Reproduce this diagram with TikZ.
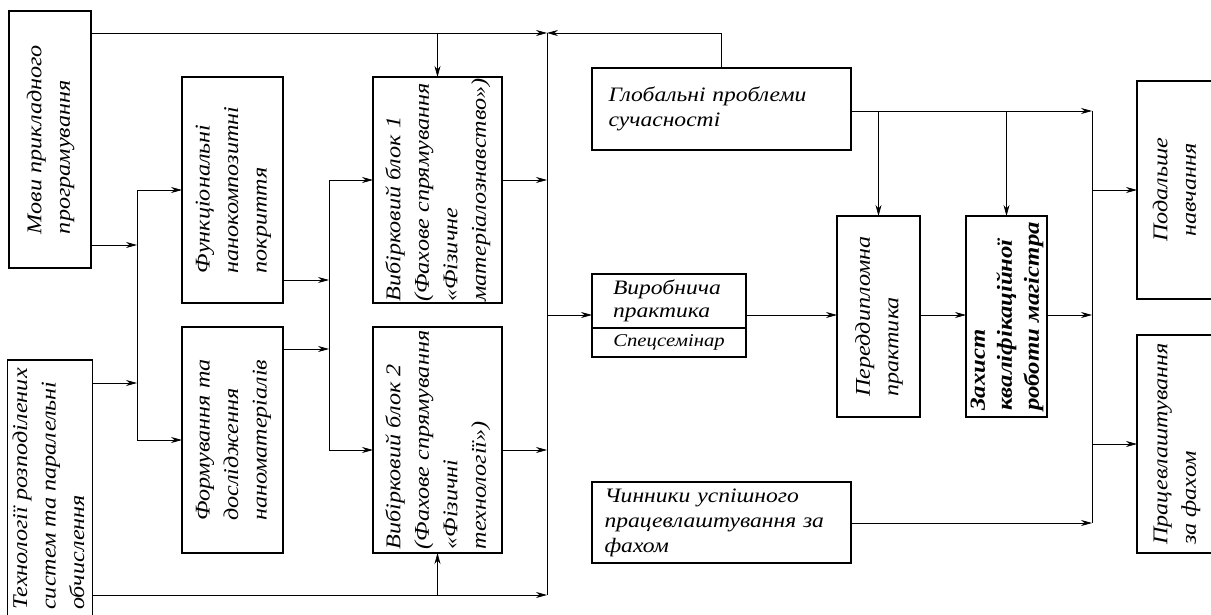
\documentclass[tikz,border=0pt]{standalone}
\usepackage{fontspec}
\setmainfont{Liberation Serif}[FakeStretch=1.15]
\usepackage{tikz}
\usetikzlibrary{arrows.meta,positioning}
% texte tourné dans les blocs verticaux
\newcommand{\vtext}[1]{\rotatebox{90}{\begin{tabular}{@{}l@{}}#1\end{tabular}}}
\newcommand{\vtextc}[1]{\rotatebox{90}{\begin{tabular}{@{}c@{}}#1\end{tabular}}}

\begin{document}
\begin{tikzpicture}[x=1pt,y=-1pt,>={Stealth[length=11pt,width=6pt]}]
\tikzset{bloc/.style={draw,line width=1.4pt,inner sep=0pt,outer sep=0pt,
  font=\itshape\fontsize{21}{28.5}\selectfont},
  horiz/.style={font=\itshape\fontsize{20.5}{25}\selectfont},
  lien/.style={line width=0.7pt},
  fleche/.style={lien,->}}
\useasboundingbox (0,0) rectangle (1211,615);

% colonne 1
\node[bloc,minimum width=82pt,minimum height=257pt] (mova) at (50,139.5)
  {\vtext{Мови прикладного\\програмування}};
\node[bloc,minimum width=82pt,minimum height=258pt] (tekh) at (50,489)
  {\vtext{Технології розподілених\\систем та паралельні\\обчислення}};
% colonne 2
\node[bloc,minimum width=101pt,minimum height=226pt] (funk) at (232.5,190)
  {\vtext{Функціональні\\нанокомпозитні\\покриття}};
\node[bloc,minimum width=101pt,minimum height=226pt] (form) at (232.5,440)
  {\vtext{Формування та\\дослідження\\наноматеріалів}};
% colonne 3
\node[bloc,minimum width=129pt,minimum height=226pt] (vyb1) at (437.5,190)
  {\vtext{Вибірковий блок 1\\(Фахове спрямування\\«Фізичне\\матеріалознавство»)}};
\node[bloc,minimum width=129pt,minimum height=226pt] (vyb2) at (437.5,440)
  {\vtext{Вибірковий блок 2\\(Фахове спрямування\\«Фізичні\\технології»)}};
% colonne 4
\node[bloc,horiz,minimum width=259pt,minimum height=82pt,text width=226pt,
  align=left] (glob) at (721.5,109)
  {Глобальні проблеми\\сучасності};
\node[bloc,horiz,minimum width=154pt,minimum height=54pt,text width=112pt,
  align=left,font=\itshape\fontsize{20.5}{23}\selectfont] (prac) at (669,301)
  {Виробнича\\практика};
\node[bloc,minimum width=154pt,minimum height=29pt,below=0pt of prac,
  font=\itshape\fontsize{18}{20}\selectfont] (sem) {Спецсемінар};
\node[bloc,horiz,minimum width=259pt,minimum height=81pt,text width=234pt,
  align=left] (chyn) at (721.5,522.5)
  {Чинники успішного\\працевлаштування за\\фахом};
% colonne 5
\node[bloc,minimum width=83pt,minimum height=201pt] (pd) at (878.5,316.5)
  {\vtext{Переддипломна\\практика}};
\node[bloc,minimum width=81pt,minimum height=201pt,
  font=\bfseries\itshape\fontsize{21.5}{27}\selectfont] (zakh) at (1006.5,316.5)
  {\vtext{Захист\\кваліфікаційної\\роботи магістра}};
% sorties
\node[bloc,minimum width=78pt,minimum height=218pt] (pod) at (1176,190)
  {\vtextc{Подальше\\навчання}};
\node[bloc,minimum width=78pt,minimum height=218pt] (prats) at (1176,444)
  {\vtext{Працевлаштування\\за фахом}};

% points des lignes de liaison
\coordinate (a1) at (137,245);
\coordinate (b1) at (137,383);
\coordinate (g1t) at (137,190);
\coordinate (g1b) at (137,440);
\coordinate (c1) at (329,280);
\coordinate (d1) at (329,349);
\coordinate (e1) at (329,180);
\coordinate (f1) at (329,450);
\coordinate (s0) at (547,33);
\coordinate (s3) at (547,315);
\coordinate (s5) at (547,595);
\coordinate (r0) at (1092,111);
\coordinate (r4) at (1092,523);

% bus gauche
\draw[lien] (g1t) -- (g1b);
\draw[fleche] (mova.east |- a1) -- (a1);
\draw[fleche] (tekh.east |- b1) -- (b1);
\draw[fleche] (g1t) -- (funk.west);
\draw[fleche] (g1b) -- (form.west);
% bus du milieu
\draw[lien] (e1) -- (f1);
\draw[fleche] (funk.east |- c1) -- (c1);
\draw[fleche] (form.east |- d1) -- (d1);
\draw[fleche] (e1) -- (vyb1.west |- e1);
\draw[fleche] (f1) -- (vyb2.west |- f1);
% grand bus
\draw[lien] (s0) -- (s5);
\draw[fleche] (mova.east |- s0) -- (s0);
\draw[fleche] (vyb1.north |- s0) -- (vyb1.north);
\draw[fleche] (glob.north) |- (s0);
\draw[fleche] (vyb1.east |- e1) -- (s0 |- e1);
\draw[fleche] (vyb2.east |- f1) -- (s0 |- f1);
\draw[fleche] (tekh.east |- s5) -- (s5);
\draw[fleche] (vyb2.south |- s5) -- (vyb2.south);
\draw[fleche] (s3) -- (prac.west |- s3);
% partie droite
\draw[lien] (r0) -- (r4);
\draw[fleche] (glob.east |- r0) -- (r0);
\draw[fleche] (pd.north |- r0) -- (pd.north);
\draw[fleche] (zakh.north |- r0) -- (zakh.north);
\draw[fleche] (prac.east |- s3) -- (pd.west |- s3);
\draw[fleche] (pd.east |- s3) -- (zakh.west |- s3);
\draw[fleche] (zakh.east |- s3) -- (r0 |- s3);
\draw[fleche] (chyn.east |- r4) -- (r4);
\draw[fleche] (r0 |- pod.west) -- (pod.west);
\draw[fleche] (r0 |- prats.west) -- (prats.west);
\end{tikzpicture}
\end{document}
